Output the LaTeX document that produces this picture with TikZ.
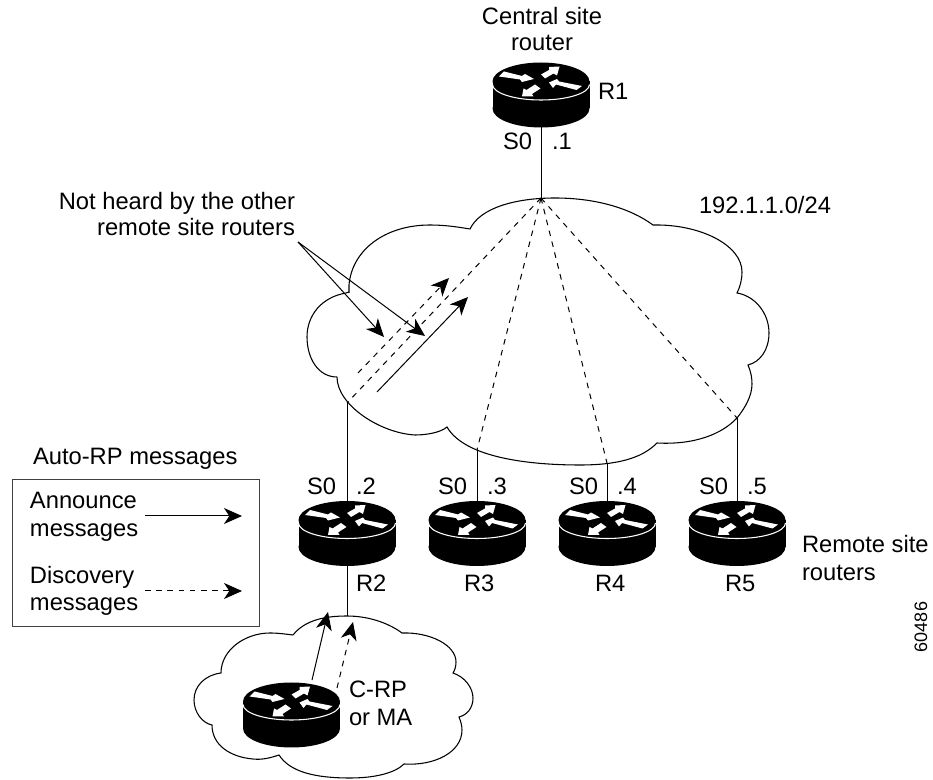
\documentclass[tikz,border=0pt]{standalone}
\usepackage{fontspec}
\setmainfont{Liberation Sans}
\usetikzlibrary{arrows.meta}
\tikzset{
  x=0.75pt,y=-0.75pt,
  thinline/.style={line width=0.75pt,black},
  cloudline/.style={line width=0.8pt,black,line join=miter},
  dashline/.style={line width=0.75pt,black,dash pattern=on 4.2pt off 4.2pt},
  headed/.style={-{Stealth[length=13.5pt,width=12pt,inset=4pt]}},
  lbl/.style={inner sep=0pt,outer sep=0pt,font=\fontsize{17.8}{19.5}\selectfont},
  routerbox/.style={shape=rectangle,inner sep=0pt,outer sep=0pt,minimum width=72.75pt,minimum height=48.75pt},
}
\newcommand{\routerat}[3]{%
  \begin{scope}[shift={(#2,#3)}]
    \fill[black] (0,0) ellipse [x radius=48.5,y radius=19];
    \fill[black] (-48.5,0) rectangle (48.5,27);
    \fill[black] (0,27) ellipse [x radius=48.5,y radius=19];
    \draw[white,line width=0.8pt] (-48.5,3) arc[start angle=180,end angle=0,x radius=48.5,y radius=15.5];
    \fill[white] (-37,-10)--(-19,-5.5)--(-16,-7.5)--(-7,-2.5)--(-19,0.5)--(-21,-2)--(-42,-5)--cycle;
    \fill[white] (0,-7)--(8,-11.5)--(8,-14.5)--(18.5,-15)--(16,-6)--(12.5,-8)--(4,-3)--cycle;
    \fill[white] (8,1)--(16,-2.5)--(18,0)--(41,4.5)--(35.5,8.5)--(15,3)--(12,6.5)--cycle;
    \fill[white] (-6,3)--(-0.5,7)--(-9,12.5)--(-7.5,15)--(-19,15)--(-17.5,7)--(-14.5,8.5)--cycle;
    \node[routerbox] (#1) at (0,13.5) {};
  \end{scope}}
\begin{document}
\begin{tikzpicture}
\useasboundingbox (0,0) rectangle (933,780);

% big cloud
\draw[cloudline] (349,292) -- (346,293) .. controls (322,297) and (307,315) .. (307,337)
  .. controls (307,358) and (318,377) .. (337,377);
\draw[cloudline] (349,293) -- (349,285) .. controls (352,250) and (385,225) .. (430,225)
  .. controls (445,225) and (458,227) .. (470,229)
  .. controls (480,208) and (515,198) .. (555,198)
  .. controls (595,198) and (630,208) .. (653,225)
  .. controls (700,224) and (742,245) .. (742,272)
  .. controls (742,280) and (740,287) .. (737,293)
  .. controls (755,296) and (769,313) .. (769,333)
  .. controls (769,350) and (760,362) .. (748,365)
  .. controls (751,372) and (752,378) .. (752,384)
  .. controls (752,396) and (745,408) .. (737,418)
  .. controls (722,434) and (695,445) .. (657,443)
  .. controls (645,455) and (625,465) .. (580,465)
  .. controls (530,465) and (465,458) .. (447,427)
  .. controls (440,433) and (425,435) .. (415,435)
  .. controls (380,433) and (337,405) .. (337,377);

% small cloud
\draw[cloudline] (293,635) .. controls (305,620) and (325,616) .. (347,616)
  .. controls (370,616) and (390,624) .. (402,633)
  .. controls (430,632) and (456,645) .. (456,662)
  .. controls (456,666) and (455,670) .. (453,673)
  .. controls (465,677) and (473,688) .. (473,698)
  .. controls (473,708) and (467,715) .. (459,717)
  .. controls (461,722) and (462,726) .. (462,730)
  .. controls (462,752) and (435,766) .. (404,764)
  .. controls (395,773) and (375,778) .. (350,778)
  .. controls (315,778) and (290,772) .. (279,755)
  .. controls (270,758) and (262,760) .. (253,759)
  .. controls (230,757) and (212,745) .. (212,725)
  .. controls (202,723) and (194,712) .. (194,700)
  .. controls (194,686) and (205,675) .. (221,673)
  .. controls (221,650) and (245,633) .. (270,633)
  .. controls (278,633) and (285,634) .. (293,635);

% routers
\routerat{R1}{541}{81.5}
\routerat{R2}{347}{520}
\routerat{R3}{477}{520}
\routerat{R4}{607}{520}
\routerat{R5}{737}{520}
\routerat{R6}{291.5}{701.5}

% named connector ends
\coordinate (apex) at (541,198);
\coordinate (e2) at (347,403);
\coordinate (e3) at (477,450);
\coordinate (e4) at (607,463);
\coordinate (e5) at (737,418);
\coordinate (ctop) at (347,616);
\coordinate (notheard) at (298,242);
\coordinate (nh1) at (384,337);
\coordinate (nh2) at (425,336);
\coordinate (ds) at (358,373);
\coordinate (dt) at (449,278);
\coordinate (as) at (377,392);
\coordinate (at1) at (468,297);
\coordinate (la1) at (145,516);
\coordinate (la2) at (242,516);
\coordinate (ld1) at (145,591);
\coordinate (ld2) at (242,591);
\coordinate (sa1) at (312,680);
\coordinate (sa2) at (328,612);
\coordinate (sd1) at (337,688);
\coordinate (sd2) at (353,622);

% connectors
\draw[thinline] (R1.south) -- (apex);
\draw[thinline] (R2.north) -- (e2);
\draw[thinline] (R3.north) -- (e3);
\draw[thinline] (R4.north) -- (e4);
\draw[thinline] (R5.north) -- (e5);
\draw[thinline] (R2.south) -- (ctop);
\draw[dashline] (apex) -- (e2);
\draw[dashline] (apex) -- (e3);
\draw[dashline] (apex) -- (e4);
\draw[dashline] (apex) -- (e5);

\draw[dashline,headed] (ds) -- (dt);
\draw[thinline,headed] (as) -- (at1);
\draw[thinline,headed] (notheard) -- (nh1);
\draw[thinline,headed] (notheard) -- (nh2);
\draw[thinline,headed] (sa1) -- (sa2);
\draw[dashline,headed] (sd1) -- (sd2);

% legend
\node[draw=black!75,line width=0.75pt,inner sep=0pt,outer sep=0pt,minimum width=185.25pt,minimum height=110.25pt] (legend) at (135.5,553.5) {};
\draw[thinline,headed] (la1) -- (la2);
\draw[dashline,headed] (ld1) -- (ld2);

% labels
\node[lbl,anchor=base] (t1a) at (542,25) {Central site};
\node[lbl,anchor=base] (t1b) at (542,51) {router};
\node[lbl,anchor=base west] (tR1) at (598,100) {R1};
\node[lbl,anchor=base west] (s1) at (503,150) {S0};
\node[lbl,anchor=base west] (d1) at (552,150) {.1};
\node[lbl,anchor=base west] (net) at (699,214) {192.1.1.0/24};
\node[lbl,anchor=base east] (nh1t) at (295,210) {Not heard by the other};
\node[lbl,anchor=base east] (nh2t) at (295,236) {remote site routers};
\node[lbl,anchor=base west] (auto) at (33,465) {Auto-RP messages};
\node[lbl,anchor=base west] (an1) at (30,509) {Announce};
\node[lbl,anchor=base west] (an2) at (30,537) {messages};
\node[lbl,anchor=base west] (di1) at (30,584) {Discovery};
\node[lbl,anchor=base west] (di2) at (30,611) {messages};
\node[lbl,anchor=base west] (s2) at (307,495) {S0};
\node[lbl,anchor=base west] (d2) at (356,495) {.2};
\node[lbl,anchor=base west] (s3) at (438,495) {S0};
\node[lbl,anchor=base west] (d3) at (487,495) {.3};
\node[lbl,anchor=base west] (s4) at (569,495) {S0};
\node[lbl,anchor=base west] (d4) at (617,495) {.4};
\node[lbl,anchor=base west] (s5) at (699,495) {S0};
\node[lbl,anchor=base west] (d5) at (747,495) {.5};
\node[lbl,anchor=base west] (tR2) at (356,592) {R2};
\node[lbl,anchor=base west] (tR3) at (464,592) {R3};
\node[lbl,anchor=base west] (tR4) at (595,592) {R4};
\node[lbl,anchor=base west] (tR5) at (725,592) {R5};
\node[lbl,anchor=base west] (rs1) at (802,553) {Remote site};
\node[lbl,anchor=base west] (rs2) at (802,581) {routers};
\node[lbl,anchor=base west] (cr1) at (349,698) {C-RP};
\node[lbl,anchor=base west] (cr2) at (349,726) {or MA};
\node[inner sep=0pt,outer sep=0pt,rotate=90,font=\fontsize{13.5}{16}\selectfont] (fig) at (921,627) {60486};
\end{tikzpicture}
\end{document}
